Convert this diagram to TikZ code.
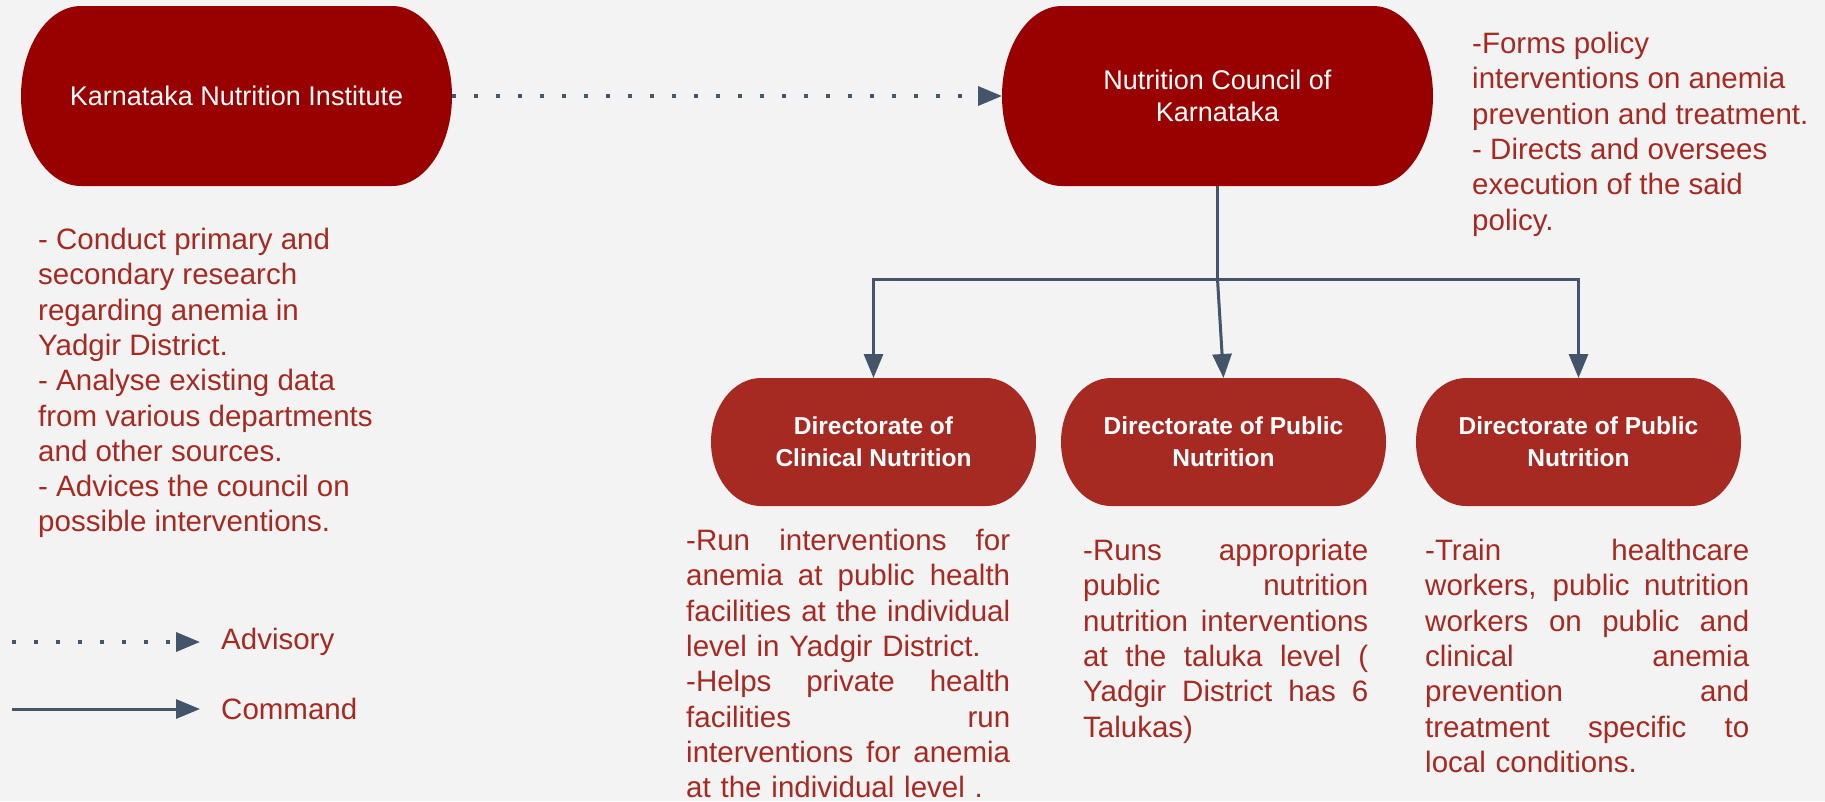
\documentclass[tikz,border=0pt]{standalone}
\usepackage{fontspec}
\setmainfont{Liberation Sans}
\usetikzlibrary{arrows.meta,backgrounds}
\definecolor{pagebg}{RGB}{243,243,243}
\definecolor{darkred}{RGB}{153,0,0}
\definecolor{brickred}{RGB}{166,42,33}
\definecolor{slate}{RGB}{68,84,106}
% capsule with flat elliptic ends round a node: colour, node, x radius, y radius
\newcommand\termshape[4]{\fill[#1] ([xshift=#3]#2.north west) -- ([xshift=-#3]#2.north east)
  arc[start angle=90,end angle=-90,x radius=#3,y radius=#4] -- ([xshift=#3]#2.south west)
  arc[start angle=270,end angle=90,x radius=#3,y radius=#4] -- cycle;}
\newlength\blockw
\newcommand\jl[1]{\makebox[\blockw][s]{\spaceskip=0pt\xspaceskip=0pt\relax#1}}

\begin{document}
\begin{tikzpicture}[x=1pt,y=1pt,
  council/.style={minimum width=431pt,minimum height=180pt,inner sep=0pt,outer sep=0pt,
    text=white,align=center,font=\fontsize{27}{32}\selectfont},
  directorate/.style={minimum width=325pt,minimum height=128pt,inner sep=0pt,outer sep=0pt,
    text=white,align=center,font=\bfseries\fontsize{24.5}{32}\selectfont},
  notes/.style={anchor=north west,inner sep=0pt,text=brickred,align=left,
    font=\fontsize{29.5}{35.3}\selectfont},
  block/.style={notes,text width=#1,execute at begin node={\setlength\blockw{#1}}},
  advisory/.style={slate,line width=3.5pt,dash pattern=on 3.5pt off 18.5pt,
    -{Triangle[length=24pt,width=19pt]}},
  command/.style={slate,line width=3pt,-{Triangle[length=24pt,width=19pt]}}]
			%%%%% START %%%%%
			\useasboundingbox (0,0) rectangle (1825,-801);
			
			\node[council] (kni) at (236.5,-96) {Karnataka Nutrition Institute};
			\node[council] (nck) at (1217.5,-96) {Nutrition Council of\\Karnataka};
			
			\node[directorate] (dcn) at (873.5,-442) {Directorate of\\Clinical Nutrition};
			\node[directorate] (dpn) at (1223.5,-442) {Directorate of Public\\Nutrition};
			\node[directorate] (dtr) at (1578.5,-442) {Directorate of Public\\Nutrition};
			
			\begin{scope}[on background layer]
				\fill[pagebg] (0,0) rectangle (1825,-801);
				\foreach \n in {kni,nck} {\termshape{darkred}{\n}{60pt}{90pt}}
				\foreach \n in {dcn,dpn,dtr} {\termshape{brickred}{\n}{50pt}{64pt}}
			\end{scope}
			
			\draw[advisory] (kni) -- (nck);
			
			\path (nck.south) ++(0,-93) coordinate (split);
			\draw[command,-] (nck.south) -- (split);
			\draw[command] (split) -| (dcn.north);
			\draw[command] (split) -- (dpn.north);
			\draw[command] (split) -| (dtr.north);
			
			\node[notes] (knitext) at (38,-228) {- Conduct primary and\\secondary research\\regarding anemia in\\Yadgir District.\\- Analyse existing data\\from various departments\\and other sources.\\- Advices the council on\\possible interventions.};
			\node[notes] (ncktext) at (1472,-32) {-Forms policy\\interventions on anemia\\prevention and treatment.\\- Directs and oversees\\execution of the said\\policy.};
			
			\node[block=324pt] (dcntext) at (686,-529) {\jl{-Run interventions for}\\\jl{anemia at public health}\\\jl{facilities at the individual}\\level in Yadgir District.\\\jl{-Helps private health}\\\jl{facilities run}\\\jl{interventions for anemia}\\at the individual level .};
			\node[block=285pt] (dpntext) at (1083,-539) {\jl{-Runs appropriate}\\\jl{public nutrition}\\\jl{nutrition interventions}\\\jl{at the taluka level (}\\\jl{Yadgir District has 6}\\Talukas)};
			\node[block=324pt] (dtrtext) at (1425,-539) {\jl{-Train healthcare}\\\jl{workers, public nutrition}\\\jl{workers on public and}\\\jl{clinical anemia}\\\jl{prevention and}\\\jl{treatment specific to}\\local conditions.};
			
			% legend
			\coordinate (advs) at (12,-642);
			\coordinate (cmds) at (12,-709);
			\node[notes,anchor=west] (advlbl) at (221,-642) {Advisory};
			\node[notes,anchor=west] (cmdlbl) at (221,-709) {Command};
			\draw[advisory] (advs) -- ([xshift=-21pt]advlbl.west);
			\draw[command] (cmds) -- ([xshift=-21pt]cmdlbl.west);
			%%%%% END %%%%%
\end{tikzpicture}
\end{document}
